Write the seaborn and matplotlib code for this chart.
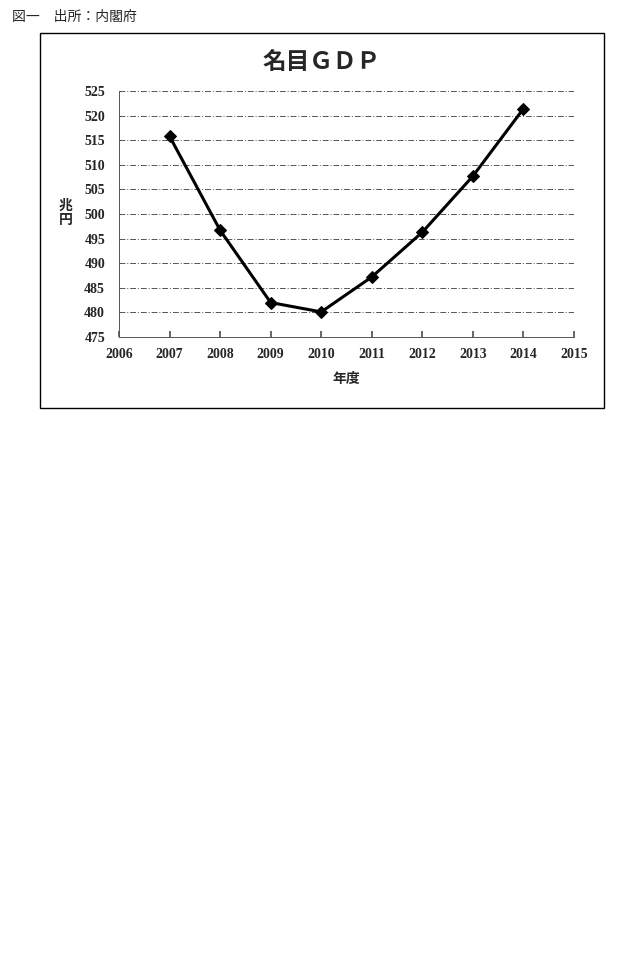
import matplotlib
matplotlib.use("Agg")
import matplotlib.pyplot as plt
import seaborn as sns
import pandas as pd
from matplotlib.patches import Rectangle

years = [2007, 2008, 2009, 2010, 2011, 2012, 2013, 2014]
gdp = [515.8, 496.7, 482.0, 480.1, 487.2, 496.3, 507.7, 521.4]
xticks = list(range(2006, 2016))
yticks = list(range(475, 526, 5))

sns.set_theme(style="white")
plt.rcParams['font.family'] = ['Noto Sans CJK JP', 'DejaVu Sans']

fig = plt.figure(figsize=(6.44, 9.72), dpi=100)
fig.patches.append(Rectangle((40/644, 1-408/972), 564/644, 375/972, transform=fig.transFigure,
                             fill=False, edgecolor='black', linewidth=1.0))
fig.text(12/644, 1-17/972, "図一　出所：内閣府", fontsize=10, va='center', ha='left')
fig.text(322/644, 1-62/972, "名目ＧＤＰ", fontsize=17, va='center', ha='center', fontweight='bold',
         family=['Noto Sans CJK JP', 'DejaVu Sans'])
fig.text(66/644, 1-213/972, "兆\n円", fontsize=10, fontweight='bold', va='center', ha='center', linespacing=1.0)

ax = fig.add_axes([119/644, 1-337/972, 455/644, 246/972])
df = pd.DataFrame({"year": years, "gdp": gdp})
sns.lineplot(data=df, x="year", y="gdp", ax=ax, color='black', linewidth=2.2,
             marker='D', markersize=6, markeredgecolor='black')
ax.set_xlim(2006, 2015)
ax.set_ylim(475, 525)
ax.set_xticks(xticks)
ax.set_yticks(yticks)
ax.set_xticklabels([str(t) for t in xticks], family='Liberation Serif', fontweight='bold', fontsize=10)
ax.set_yticklabels([str(t) for t in yticks], family='Liberation Serif', fontweight='bold', fontsize=10)
ax.yaxis.grid(True, color='#555555', linestyle=(0, (6, 2, 1, 2)), linewidth=0.7)
for s in ['top', 'right']:
    ax.spines[s].set_visible(False)
for s in ['left', 'bottom']:
    ax.spines[s].set_color('#555555')
    ax.spines[s].set_linewidth(0.7)
ax.tick_params(axis='x', direction='in', length=4, bottom=True, color='#555555', pad=8)
ax.tick_params(axis='y', left=False, pad=4)
ax.set_xlabel("年度", fontsize=10, fontweight='bold', labelpad=8)
ax.set_ylabel("")
fig.savefig("out.png", dpi=100)
